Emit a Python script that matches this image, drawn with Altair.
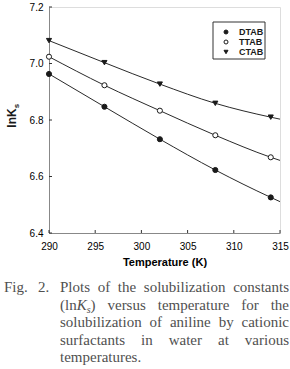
import altair as alt
import pandas as pd

# ---------------- data ----------------
series = ["DTAB", "TTAB", "CTAB"]
temps = [290, 296, 302, 308, 314]
dtab = [6.963, 6.847, 6.732, 6.623, 6.526]
ttab = [7.024, 6.923, 6.833, 6.746, 6.668]
ctab = [7.081, 7.003, 6.927, 6.859, 6.810]

fit_temps = [290, 296, 302, 308, 314, 315]
dtab_fit = [6.963, 6.847, 6.732, 6.623, 6.526, 6.511]
ttab_fit = [7.024, 6.923, 6.833, 6.746, 6.668, 6.657]
ctab_fit = [7.081, 7.003, 6.927, 6.859, 6.810, 6.803]

x_ticks = [290, 295, 300, 305, 310, 315]
y_ticks = [6.4, 6.6, 6.8, 7.0, 7.2]

caption_prefix = ["Fig.", "2."]
caption_lines = [
    ["Plots", "of", "the", "solubilization", "constants"],
    ["(lnKs)", "versus", "temperature", "for", "the"],
    ["solubilization", "of", "aniline", "by", "cationic"],
    ["surfactants", "in", "water", "at", "various"],
    ["temperatures."],
]

# ---------------- layout ----------------
W, H = 231, 226
OX, OY = 49, 7
INK = "#1a1a1a"
SANS = "Liberation Sans"
SERIF = "Liberation Serif"
CAP_COLOR = "#505050"
CAP_SIZE = 15

pts = pd.DataFrame(
    [(s, t, v) for s, vals in zip(series, [dtab, ttab, ctab]) for t, v in zip(temps, vals)],
    columns=["s", "T", "v"],
)
fit = pd.DataFrame(
    [(s, t, v) for s, vals in zip(series, [dtab_fit, ttab_fit, ctab_fit]) for t, v in zip(fit_temps, vals)],
    columns=["s", "T", "v"],
)

xs = alt.Scale(domain=[290, 315], nice=False, zero=False)
ys = alt.Scale(domain=[6.4, 7.2], nice=False, zero=False)
shape_scale = alt.Scale(domain=series, range=["circle", "circle", "triangle-down"])
fill_scale = alt.Scale(domain=series, range=[INK, "#ffffff", INK])

x_axis = alt.Axis(values=x_ticks, title="Temperature (K)", ticks=False, tickSize=0, labelFlush=False,
                  labelPadding=8, titlePadding=5, grid=False, format="d")
y_axis = alt.Axis(values=y_ticks, title=None, ticks=False, tickSize=0, labelFlush=False,
                  labelPadding=6, grid=False, format=".1f")

lines = alt.Chart(fit).mark_line(color="#2a2a2a", strokeWidth=1, interpolate="monotone").encode(
    x=alt.X("T:Q", scale=xs, axis=x_axis),
    y=alt.Y("v:Q", scale=ys, axis=y_axis),
    detail="s:N",
)

points = alt.Chart(pts).mark_point(filled=True, stroke=INK, strokeWidth=1, opacity=1, fillOpacity=1).encode(
    x=alt.X("T:Q", scale=xs, axis=None),
    y=alt.Y("v:Q", scale=ys, axis=None),
    shape=alt.Shape("s:N", scale=shape_scale, legend=None),
    fill=alt.Fill("s:N", scale=fill_scale, legend=None),
    size=alt.value(26),
)

xt = alt.Chart(pd.DataFrame({"T": x_ticks})).mark_rule(color="#333", strokeWidth=1).encode(
    x=alt.X("T:Q", scale=xs, axis=None), y=alt.value(H), y2=alt.value(H - 3)
)
yt = alt.Chart(pd.DataFrame({"v": y_ticks})).mark_rule(color="#333", strokeWidth=1).encode(
    y=alt.Y("v:Q", scale=ys, axis=None), x=alt.value(0), x2=alt.value(3)
)

# ---------------- legend (custom box) ----------------
box = alt.Chart(pd.DataFrame({"a": [0]})).mark_rect(fill="white", stroke="#333", strokeWidth=1).encode(
    x=alt.value(213 - OX), x2=alt.value(265 - OX), y=alt.value(22 - OY), y2=alt.value(59 - OY)
)
leg = pd.DataFrame({"s": series})
leg["py"] = [32 - OY + 10 * i for i in range(len(series))]
leg["sx"] = 226 - OX
leg["tx"] = 239 - OX
leg_sym = alt.Chart(leg).mark_point(filled=True, stroke=INK, strokeWidth=1, opacity=1, fillOpacity=1).encode(
    x=alt.X("sx:Q", scale=None, axis=None),
    y=alt.Y("py:Q", scale=None, axis=None),
    shape=alt.Shape("s:N", scale=shape_scale, legend=None),
    fill=alt.Fill("s:N", scale=fill_scale, legend=None),
    size=alt.value(16),
)
leg_txt = alt.Chart(leg).mark_text(align="left", baseline="middle", font=SANS, fontWeight="bold",
                                   fontSize=9, color=INK).encode(
    x=alt.X("tx:Q", scale=None, axis=None),
    y=alt.Y("py:Q", scale=None, axis=None),
    text="s:N",
)

# ---------------- y-axis title lnK_s ----------------
ytitle = alt.Chart(pd.DataFrame({"t": ["lnK"]})).mark_text(
    angle=270, align="center", baseline="middle", font=SANS, fontWeight="bold", fontSize=12, color=INK
).encode(x=alt.value(12 - OX), y=alt.value(118 - OY), text="t:N")
ysub = alt.Chart(pd.DataFrame({"t": ["s"]})).mark_text(
    angle=270, align="center", baseline="middle", font=SANS, fontWeight="bold", fontSize=8, color=INK
).encode(x=alt.value(17 - OX), y=alt.value(106 - OY), text="t:N")

# ---------------- caption (justified) ----------------
TIMES = {"a": 444, "b": 500, "c": 444, "d": 500, "e": 444, "f": 333, "g": 500, "h": 500, "i": 278,
         "l": 278, "m": 778, "n": 500, "o": 500, "p": 500, "r": 333, "s": 389, "t": 278, "u": 500,
         "v": 500, "w": 722, "y": 500, "z": 444, ".": 250, "(": 333, ")": 333, "P": 556, "F": 556,
         "2": 500, "K": 722}


def tw(word, size=CAP_SIZE):
    return sum(TIMES.get(c, 500) for c in word) * size / 1000.0


def width_of(word):
    if word == "(lnKs)":
        return tw("(ln") + 667 * CAP_SIZE / 1000 + 389 * 10 / 1000 + tw(")")
    return tw(word)


LEFT, RIGHT = 60, 289
baselines = [292, 309.5, 327, 344.5, 362]
reg_rows, ital_rows = [], []
reg_rows.append({"w": caption_prefix[0], "px": 4 - OX, "py": baselines[0] - OY})
reg_rows.append({"w": caption_prefix[1], "px": 38 - OX, "py": baselines[0] - OY})
for li, words in enumerate(caption_lines):
    by = baselines[li] - OY
    if len(words) > 1:
        total = sum(width_of(w) for w in words)
        gap = (RIGHT - LEFT - total) / (len(words) - 1)
    else:
        gap = 4
    x = LEFT
    for w in words:
        if w == "(lnKs)":
            reg_rows.append({"w": "(ln", "px": x - OX, "py": by})
            kx = x + tw("(ln")
            ital_rows.append({"w": "K", "px": kx - OX, "py": by, "fs": CAP_SIZE})
            sx = kx + 667 * CAP_SIZE / 1000
            ital_rows.append({"w": "s", "px": sx - OX, "py": by + 3, "fs": 10})
            reg_rows.append({"w": ")", "px": sx + 3.9 - OX, "py": by})
        else:
            reg_rows.append({"w": w, "px": x - OX, "py": by})
        x += width_of(w) + gap

cap_reg = alt.Chart(pd.DataFrame(reg_rows)).mark_text(
    align="left", baseline="alphabetic", font=SERIF, fontSize=CAP_SIZE, color=CAP_COLOR
).encode(x=alt.X("px:Q", scale=None, axis=None), y=alt.Y("py:Q", scale=None, axis=None), text="w:N")
cap_it = alt.Chart(pd.DataFrame(ital_rows)).mark_text(
    align="left", baseline="alphabetic", font=SERIF, fontStyle="italic", color=CAP_COLOR
).encode(x=alt.X("px:Q", scale=None, axis=None), y=alt.Y("py:Q", scale=None, axis=None), text="w:N",
         size=alt.Size("fs:Q", scale=None, legend=None))

chart = alt.layer(
    lines, points, xt, yt, box, leg_sym, leg_txt, ytitle, ysub, cap_reg, cap_it
).resolve_scale(x="independent", y="independent").properties(
    width=W, height=H,
    autosize=alt.AutoSizeParams(type="none"),
    padding={"left": OX, "top": OY, "right": 290 - OX - W, "bottom": 369 - OY - H},
).configure_view(stroke="#333", strokeWidth=1).configure_axis(
    domainColor="#333", labelFont=SANS, labelFontWeight="bold", labelFontSize=12, labelColor=INK,
    titleFont=SANS, titleFontWeight="bold", titleFontSize=11.5, titleColor=INK,
).configure(background="white")

chart.save("out.html", embed_options={"renderer": "svg", "actions": False})
